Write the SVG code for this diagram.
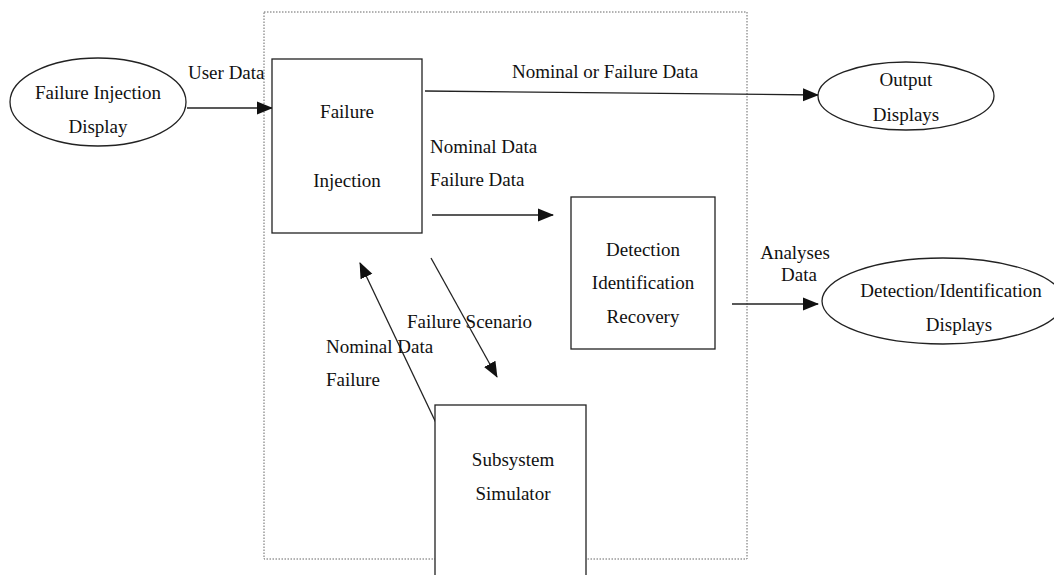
<svg xmlns="http://www.w3.org/2000/svg" width="1054" height="575" viewBox="0 0 1054 575">
  <style>
    text { font-family: "Liberation Serif", "Times New Roman", serif; font-size: 19px; fill: #111; }
    .c { text-anchor: middle; }
    .shape { fill: #fff; stroke: #222; stroke-width: 1.3; }
    .edge { fill: none; stroke: #222; stroke-width: 1.3; marker-end: url(#head); }
    .bound { fill: none; stroke: #666; stroke-width: 1; stroke-dasharray: 1.5 1.5; }
  </style>
  <defs>
    <marker id="head" markerUnits="userSpaceOnUse" markerWidth="16" markerHeight="14" viewBox="0 0 16 14" refX="15" refY="7" orient="auto">
      <path d="M0,0.5 L16,7 L0,13.5 Z" fill="#111"/>
    </marker>
  </defs>
  <rect width="1054" height="575" fill="#fff"/>

  <!-- system boundary -->
  <rect id="boundary" class="bound" x="264" y="12" width="483" height="547"/>

  <g id="connectors">
    <path class="edge" d="M187,108 L272,108"/>
    <path class="edge" d="M425,91 L818,95"/>
    <path class="edge" d="M432,215 L553,215"/>
    <path class="edge" d="M732,304 L818,304"/>
    <path class="edge" d="M431,258 L497,377"/>
    <path class="edge" d="M437,425 L360,263"/>
  </g>

  <g id="edge-labels">
    <text x="188" y="79">User Data</text>
    <text x="512" y="78">Nominal or Failure Data</text>
    <text x="430" y="153">Nominal Data</text>
    <text x="430" y="186">Failure Data</text>
    <text class="c" x="795" y="259">Analyses</text>
    <text class="c" x="799" y="281">Data</text>
    <text x="407" y="328">Failure Scenario</text>
    <text x="326" y="353">Nominal Data</text>
    <text x="326" y="386">Failure</text>
  </g>

  <g id="failure-injection-display">
    <ellipse class="shape" cx="98" cy="102" rx="88" ry="44"/>
    <text class="c" x="98" y="99">Failure Injection</text>
    <text class="c" x="98" y="133">Display</text>
  </g>

  <g id="failure-injection">
    <rect class="shape" x="272" y="59" width="150" height="174"/>
    <text class="c" x="347" y="118">Failure</text>
    <text class="c" x="347" y="187">Injection</text>
  </g>

  <g id="output-displays">
    <ellipse class="shape" cx="906" cy="96" rx="88" ry="34"/>
    <text class="c" x="906" y="86">Output</text>
    <text class="c" x="906" y="121">Displays</text>
  </g>

  <g id="detection-identification-recovery">
    <rect class="shape" x="571" y="197" width="144" height="152"/>
    <text class="c" x="643" y="256">Detection</text>
    <text class="c" x="643" y="289">Identification</text>
    <text class="c" x="643" y="323">Recovery</text>
  </g>

  <g id="detection-identification-displays">
    <ellipse class="shape" cx="943" cy="301" rx="121" ry="43"/>
    <text class="c" x="951" y="297">Detection/Identification</text>
    <text class="c" x="959" y="331">Displays</text>
  </g>

  <g id="subsystem-simulator">
    <rect class="shape" x="435" y="405" width="151" height="180"/>
    <text class="c" x="513" y="466">Subsystem</text>
    <text class="c" x="513" y="500">Simulator</text>
  </g>
</svg>
